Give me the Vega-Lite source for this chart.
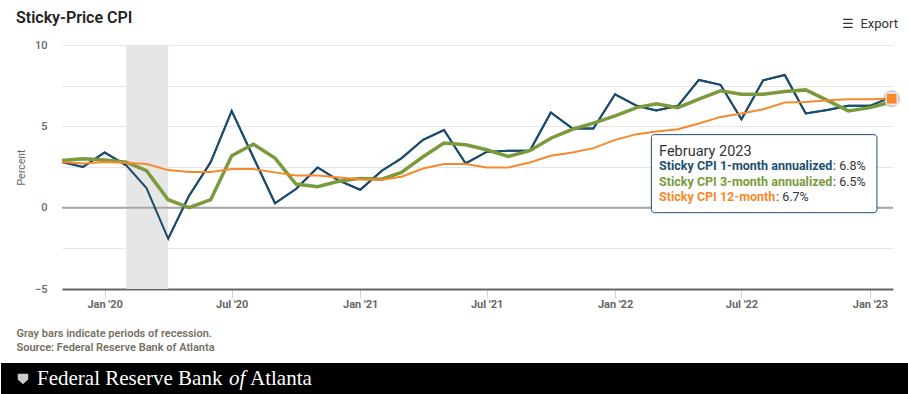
{
  "$schema": "https://vega.github.io/schema/vega-lite/v6.json",
  "padding": {"left": 0, "top": 10, "right": 0, "bottom": 0},
  "background": "white",
  "config": {"font": "Roboto", "view": {"stroke": null}},
  "title": {"text": "☰\u2002Export", "anchor": "end", "frame": "bounds", "fontSize": 13, "fontWeight": "normal", "color": "#333333", "offset": -21, "dx": -10},
  "spacing": 11,
  "datasets": {
    "cpi": [
      {"date": "2019-11-01", "m1": 2.8, "m3": 2.9, "m12": 2.8},
      {"date": "2019-12-01", "m1": 2.5, "m3": 3.0, "m12": 2.72},
      {"date": "2020-01-01", "m1": 3.4, "m3": 2.93, "m12": 2.8},
      {"date": "2020-02-01", "m1": 2.6, "m3": 2.8, "m12": 2.76},
      {"date": "2020-03-01", "m1": 1.2, "m3": 2.27, "m12": 2.68},
      {"date": "2020-04-01", "m1": -1.9, "m3": 0.49, "m12": 2.31},
      {"date": "2020-05-01", "m1": 0.74, "m3": 0.0, "m12": 2.2},
      {"date": "2020-06-01", "m1": 2.8, "m3": 0.49, "m12": 2.2},
      {"date": "2020-07-01", "m1": 5.95, "m3": 3.19, "m12": 2.37},
      {"date": "2020-08-01", "m1": 3.1, "m3": 3.9, "m12": 2.37},
      {"date": "2020-09-01", "m1": 0.27, "m3": 3.05, "m12": 2.17},
      {"date": "2020-10-01", "m1": 1.15, "m3": 1.45, "m12": 1.98},
      {"date": "2020-11-01", "m1": 2.47, "m3": 1.29, "m12": 1.97},
      {"date": "2020-12-01", "m1": 1.68, "m3": 1.62, "m12": 1.86},
      {"date": "2021-01-01", "m1": 1.1, "m3": 1.8, "m12": 1.74},
      {"date": "2021-02-01", "m1": 2.27, "m3": 1.75, "m12": 1.72},
      {"date": "2021-03-01", "m1": 3.03, "m3": 2.17, "m12": 1.9},
      {"date": "2021-04-01", "m1": 4.17, "m3": 3.13, "m12": 2.41},
      {"date": "2021-05-01", "m1": 4.77, "m3": 3.97, "m12": 2.68},
      {"date": "2021-06-01", "m1": 2.72, "m3": 3.87, "m12": 2.68},
      {"date": "2021-07-01", "m1": 3.43, "m3": 3.56, "m12": 2.47},
      {"date": "2021-08-01", "m1": 3.5, "m3": 3.15, "m12": 2.47},
      {"date": "2021-09-01", "m1": 3.5, "m3": 3.5, "m12": 2.78},
      {"date": "2021-10-01", "m1": 5.85, "m3": 4.27, "m12": 3.19},
      {"date": "2021-11-01", "m1": 4.87, "m3": 4.82, "m12": 3.39},
      {"date": "2021-12-01", "m1": 4.87, "m3": 5.2, "m12": 3.66},
      {"date": "2022-01-01", "m1": 6.97, "m3": 5.64, "m12": 4.17},
      {"date": "2022-02-01", "m1": 6.26, "m3": 6.15, "m12": 4.52},
      {"date": "2022-03-01", "m1": 5.97, "m3": 6.38, "m12": 4.68},
      {"date": "2022-04-01", "m1": 6.26, "m3": 6.15, "m12": 4.82},
      {"date": "2022-05-01", "m1": 7.85, "m3": 6.67, "m12": 5.17},
      {"date": "2022-06-01", "m1": 7.55, "m3": 7.18, "m12": 5.58},
      {"date": "2022-07-01", "m1": 5.44, "m3": 6.97, "m12": 5.79},
      {"date": "2022-08-01", "m1": 7.83, "m3": 6.97, "m12": 6.05},
      {"date": "2022-09-01", "m1": 8.16, "m3": 7.14, "m12": 6.46},
      {"date": "2022-10-01", "m1": 5.79, "m3": 7.24, "m12": 6.5},
      {"date": "2022-11-01", "m1": 6.0, "m3": 6.6, "m12": 6.6},
      {"date": "2022-12-01", "m1": 6.26, "m3": 5.95, "m12": 6.67},
      {"date": "2023-01-01", "m1": 6.26, "m3": 6.15, "m12": 6.67},
      {"date": "2023-02-01", "m1": 6.8, "m3": 6.5, "m12": 6.7}
    ]
  },
  "vconcat": [
    {
      "width": 831,
      "height": 244,
      "title": {"text": "Sticky-Price CPI", "anchor": "start", "frame": "bounds", "fontSize": 16, "fontWeight": 600, "color": "#222222", "dx": 16, "offset": 13},
      "data": {"name": "cpi"},
      "layer": [
        {
          "mark": {"type": "line", "color": "#1b4b6d", "strokeWidth": 2},
          "encoding": {
            "x": {
              "field": "date", "type": "temporal",
              "scale": {"type": "utc", "domain": [{"year": 2019, "month": 11, "date": 1, "utc": true}, {"year": 2023, "month": 2, "date": 3, "utc": true}]},
              "axis": {
                "values": [
                  {"year": 2020, "month": 1, "date": 1, "utc": true},
                  {"year": 2020, "month": 7, "date": 1, "utc": true},
                  {"year": 2021, "month": 1, "date": 1, "utc": true},
                  {"year": 2021, "month": 7, "date": 1, "utc": true},
                  {"year": 2022, "month": 1, "date": 1, "utc": true},
                  {"year": 2022, "month": 7, "date": 1, "utc": true},
                  {"year": 2023, "month": 1, "date": 1, "utc": true}
                ],
                "format": "%b '%y",
                "grid": false,
                "domainColor": "#666666",
                "domainWidth": 2,
                "tickColor": "#ccd6eb",
                "tickSize": 9,
                "labelFontSize": 11,
                "labelFontWeight": "bold",
                "labelColor": "#666666",
                "labelPadding": 0,
                "labelFlush": false,
                "title": ["Gray bars indicate periods of recession.", "Source: Federal Reserve Bank of Atlanta"],
                "titleX": -46,
                "titleY": 38,
                "titleAlign": "left",
                "titleBaseline": "top",
                "titleFontSize": 11,
                "titleFontWeight": 600,
                "titleColor": "#757063",
                "titleLineHeight": 14,
                "zindex": 0
              }
            },
            "y": {
              "field": "m1", "type": "quantitative",
              "scale": {"domain": [-5, 10], "nice": false, "zero": false},
              "axis": {
                "values": [-5, -2.5, 0, 2.5, 5, 7.5, 10],
                "labelExpr": "datum.value % 5 === 0 ? datum.label : ''",
                "domain": false,
                "grid": true,
                "gridColor": "#e6e6e6",
                "gridWidth": 1,
                "tickSize": 61.5,
                "tickColor": "transparent",
                "labelPadding": -46.5,
                "labelFontSize": 11,
                "labelFontWeight": 500,
                "labelColor": "#666666",
                "title": "Percent",
                "titleX": -41,
                "titleY": 122,
                "titleAngle": 270,
                "titleAlign": "center",
                "titleBaseline": "middle",
                "titleFontSize": 10.5,
                "titleFontWeight": "normal",
                "titleColor": "#666666",
                "zindex": 0
              }
            }
          }
        },
        {
          "data": {"values": [{"start": "2020-02-01", "end": "2020-04-01"}]},
          "mark": {"type": "rect", "color": "#e6e6e6"},
          "encoding": {
            "x": {"field": "start", "type": "temporal"},
            "x2": {"field": "end"}
          }
        },
        {
          "data": {"values": [{}]},
          "mark": {"type": "rule", "color": "#a6a6a6", "strokeWidth": 2},
          "encoding": {"y": {"datum": 0, "type": "quantitative"}}
        },
        {
          "mark": {"type": "line", "color": "#1b4b6d", "strokeWidth": 2},
          "encoding": {
            "x": {"field": "date", "type": "temporal"},
            "y": {"field": "m1", "type": "quantitative"}
          }
        },
        {
          "mark": {"type": "line", "color": "#7a9a3c", "strokeWidth": 3.5},
          "encoding": {
            "x": {"field": "date", "type": "temporal"},
            "y": {"field": "m3", "type": "quantitative"}
          }
        },
        {
          "mark": {"type": "line", "color": "#f5892b", "strokeWidth": 2},
          "encoding": {
            "x": {"field": "date", "type": "temporal"},
            "y": {"field": "m12", "type": "quantitative"}
          }
        },
        {
          "data": {"values": [{}]},
          "mark": {"type": "rect", "fill": "white", "stroke": "#1d4f72", "strokeWidth": 1, "cornerRadius": 3},
          "encoding": {
            "x": {"datum": {"year": 2022, "month": 2, "date": 22, "utc": true}, "type": "temporal"},
            "x2": {"datum": {"year": 2023, "month": 1, "date": 11, "utc": true}},
            "y": {"datum": 4.49, "type": "quantitative"},
            "y2": {"datum": -0.31}
          }
        },
        {
          "transform": [
            {"filter": "utcyear(datum.date) === 2023 && utcmonth(datum.date) === 1"},
            {"calculate": "utcFormat(datum.date, '%B %Y')", "as": "lbl"}
          ],
          "mark": {"type": "text", "align": "left", "baseline": "middle", "fontSize": 14.5, "color": "#333333"},
          "encoding": {
            "x": {"datum": {"year": 2022, "month": 3, "date": 5, "utc": true}, "type": "temporal"},
            "y": {"datum": 3.42, "type": "quantitative"},
            "text": {"field": "lbl"}
          }
        },
        {
          "data": {"values": [{}]},
          "mark": {"type": "text", "align": "left", "baseline": "middle", "fontSize": 12.5, "fontWeight": "bold", "color": "#1d4f72", "text": "Sticky CPI 1-month annualized"},
          "encoding": {
            "x": {"datum": {"year": 2022, "month": 3, "date": 5, "utc": true}, "type": "temporal"},
            "y": {"datum": 2.56, "type": "quantitative"}
          }
        },
        {
          "data": {"values": [{}]},
          "mark": {"type": "text", "align": "left", "baseline": "middle", "fontSize": 12.5, "fontWeight": "bold", "color": "#7a9a3c", "text": "Sticky CPI 3-month annualized"},
          "encoding": {
            "x": {"datum": {"year": 2022, "month": 3, "date": 5, "utc": true}, "type": "temporal"},
            "y": {"datum": 1.6, "type": "quantitative"}
          }
        },
        {
          "data": {"values": [{}]},
          "mark": {"type": "text", "align": "left", "baseline": "middle", "fontSize": 12.5, "fontWeight": "bold", "color": "#f5892b", "text": "Sticky CPI 12-month"},
          "encoding": {
            "x": {"datum": {"year": 2022, "month": 3, "date": 5, "utc": true}, "type": "temporal"},
            "y": {"datum": 0.66, "type": "quantitative"}
          }
        },
        {
          "transform": [
            {"filter": "utcyear(datum.date) === 2023 && utcmonth(datum.date) === 1"},
            {"calculate": "': ' + format(datum.m1, '.1f') + '%'", "as": "lbl"}
          ],
          "mark": {"type": "text", "align": "left", "baseline": "middle", "fontSize": 12.5, "color": "#333333", "dx": 174},
          "encoding": {
            "x": {"datum": {"year": 2022, "month": 3, "date": 5, "utc": true}, "type": "temporal"},
            "y": {"datum": 2.56, "type": "quantitative"},
            "text": {"field": "lbl"}
          }
        },
        {
          "transform": [
            {"filter": "utcyear(datum.date) === 2023 && utcmonth(datum.date) === 1"},
            {"calculate": "': ' + format(datum.m3, '.1f') + '%'", "as": "lbl"}
          ],
          "mark": {"type": "text", "align": "left", "baseline": "middle", "fontSize": 12.5, "color": "#333333", "dx": 174},
          "encoding": {
            "x": {"datum": {"year": 2022, "month": 3, "date": 5, "utc": true}, "type": "temporal"},
            "y": {"datum": 1.6, "type": "quantitative"},
            "text": {"field": "lbl"}
          }
        },
        {
          "transform": [
            {"filter": "utcyear(datum.date) === 2023 && utcmonth(datum.date) === 1"},
            {"calculate": "': ' + format(datum.m12, '.1f') + '%'", "as": "lbl"}
          ],
          "mark": {"type": "text", "align": "left", "baseline": "middle", "fontSize": 12.5, "color": "#333333", "dx": 117},
          "encoding": {
            "x": {"datum": {"year": 2022, "month": 3, "date": 5, "utc": true}, "type": "temporal"},
            "y": {"datum": 0.66, "type": "quantitative"},
            "text": {"field": "lbl"}
          }
        },
        {
          "transform": [{"filter": "utcyear(datum.date) === 2023 && utcmonth(datum.date) === 1"}],
          "mark": {"type": "point", "shape": "circle", "filled": true, "size": 300, "color": "#8a8a8a", "opacity": 0.4},
          "encoding": {
            "x": {"field": "date", "type": "temporal"},
            "y": {"field": "m12", "type": "quantitative"}
          }
        },
        {
          "transform": [{"filter": "utcyear(datum.date) === 2023 && utcmonth(datum.date) === 1"}],
          "mark": {"type": "point", "shape": "square", "filled": true, "size": 120, "fill": "#f5892b", "stroke": "white", "strokeWidth": 1, "opacity": 1},
          "encoding": {
            "x": {"field": "date", "type": "temporal"},
            "y": {"field": "m12", "type": "quantitative"}
          }
        }
      ]
    },
    {
      "width": 846,
      "height": 32,
      "view": {"fill": "black", "stroke": null},
      "data": {"values": [{}]},
      "encoding": {
        "y": {
          "datum": 0, "type": "quantitative",
          "scale": {"domain": [-1, 1]},
          "axis": {
            "values": [-0.9375, -0.8125, -0.6875, -0.5625, -0.4375, -0.3125, -0.1875, -0.0625, 0.0625, 0.1875, 0.3125, 0.4375, 0.5625, 0.6875, 0.8125, 0.9375],
            "tickSize": 61, "tickWidth": 2, "tickColor": "black", "tickCap": "butt", "translate": 0,
            "labels": false, "domain": false, "grid": false, "title": null
          }
        }
      },
      "layer": [
        {"mark": {"type": "point", "shape": "M-1,-1L1,-1L1,0.1L0,1L-1,0.1Z", "filled": true, "size": 110, "color": "#cccccc", "opacity": 1, "xOffset": -462}},
        {"mark": {"type": "text", "text": "Federal Reserve Bank", "font": "Liberation Serif", "fontSize": 21, "color": "white", "align": "left", "baseline": "middle", "dx": -448}},
        {"mark": {"type": "text", "text": "of", "font": "Liberation Serif", "fontStyle": "italic", "fontSize": 21, "color": "white", "align": "left", "baseline": "middle", "dx": -256}},
        {"mark": {"type": "text", "text": "Atlanta", "font": "Liberation Serif", "fontSize": 21, "color": "white", "align": "left", "baseline": "middle", "dx": -235}}
      ]
    }
  ]
}
